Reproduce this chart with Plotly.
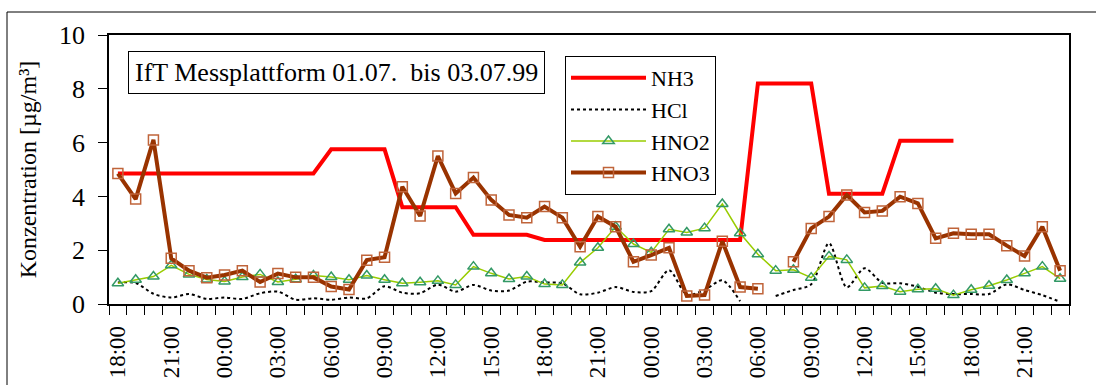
import plotly.graph_objects as go
import pandas as pd

# hourly time stamps 01.07.99 18:00 -> 03.07.99 23:00
times = pd.date_range("1999-07-01 18:00", "1999-07-03 23:00", freq="h")

nh3 = [4.85, 4.85, 4.85, 4.85, 4.85, 4.85, 4.85, 4.85, 4.85, 4.85, 4.85, 4.85,
       5.75, 5.75, 5.75, 5.75,
       3.6, 3.6, 3.6, 3.6,
       2.57, 2.57, 2.57, 2.57,
       2.38, 2.38, 2.38, 2.38, 2.38, 2.38, 2.38, 2.38, 2.38, 2.38, 2.38, 2.38,
       8.2, 8.2, 8.2, 8.2,
       4.1, 4.1, 4.1, 4.1,
       6.07, 6.07, 6.07, 6.07,
       None, None, None, None, None, None]

hcl = [0.8, 0.78, 0.38, 0.24, 0.37, 0.19, 0.24, 0.19, 0.4, 0.46, 0.16, 0.21,
       0.16, 0.24, 0.21, 0.66, 0.42, 0.4, 0.72, 0.46, 0.71, 0.5, 0.5, 0.83,
       0.8, 0.77, 0.36, 0.42, 0.63, 0.45, 0.48, 1.26, 0.35, 0.52, 0.88, 0.1,
       None, 0.3, 0.52, 0.73, 2.26, 0.62, 1.33, 0.79, 0.77, 0.64, 0.42, 0.37,
       0.37, 0.37, 0.73, 0.52, 0.33, 0.08]

hno2 = [0.77, 0.9, 1.02, 1.44, 1.1, 0.91, 0.84, 1.0, 1.1, 0.82, 0.92, 1.06,
        1.0, 0.9, 1.06, 0.9, 0.77, 0.81, 0.86, 0.71, 1.39, 1.14, 0.93, 1.02,
        0.74, 0.71, 1.54, 2.09, 2.87, 2.23, 1.92, 2.78, 2.66, 2.82, 3.72, 2.63,
        1.85, 1.24, 1.27, 0.98, 1.77, 1.64, 0.6, 0.67, 0.46, 0.55, 0.57, 0.33,
        0.53, 0.68, 0.89, 1.14, 1.39, 0.94]

hno3 = [4.85, 3.9, 6.1, 1.7, 1.24, 0.98, 1.08, 1.24, 0.82, 1.13, 0.99, 0.99,
        0.65, 0.54, 1.63, 1.74, 4.36, 3.27, 5.5, 4.11, 4.7, 3.87, 3.31, 3.21,
        3.62, 3.21, 2.13, 3.25, 2.87, 1.57, 1.82, 2.09, 0.3, 0.33, 2.33, 0.63,
        0.57, None, 1.57, 2.81, 3.25, 4.05, 3.4, 3.46, 3.99, 3.74, 2.44, 2.63,
        2.59, 2.59, 2.17, 1.78, 2.87, 1.24]

FONT = "Liberation Serif"

fig = go.Figure()
fig.add_trace(go.Scatter(x=times, y=nh3, name="NH3", mode="lines",
                         line=dict(color="#FF0000", width=4), legendgroup="a"))
fig.add_trace(go.Scatter(x=times, y=hcl, name="HCl", mode="lines",
                         line=dict(color="#000000", width=2, dash="dot",
                                   shape="spline", smoothing=0.8),
                         legendgroup="b"))
fig.add_trace(go.Scatter(x=times, y=hno2, name="HNO2", mode="lines+markers",
                         line=dict(color="#99CC00", width=1.5),
                         marker=dict(symbol="triangle-up-open", size=10,
                                     color="#339966", line=dict(width=1.5)),
                         legendgroup="c"))
fig.add_trace(go.Scatter(x=times, y=hno3, name="HNO3", mode="lines+markers",
                         line=dict(color="#993300", width=4),
                         marker=dict(symbol="square-open", size=10,
                                     color="#C0643A", line=dict(width=1.5)),
                         legendgroup="d"))

fig.update_layout(
    width=1096, height=385,
    margin=dict(l=109, r=27, t=35, b=81, autoexpand=False),
    paper_bgcolor="white", plot_bgcolor="white",
    font=dict(family=FONT, color="black"),
    showlegend=True,
    legend=dict(x=0.475, y=0.922, xanchor="left", yanchor="top",
                bordercolor="black", borderwidth=1, bgcolor="white",
                font=dict(family=FONT, size=22, color="black"),
                itemwidth=75, tracegroupgap=0),
    xaxis=dict(
        type="date", automargin=False,
        range=["1999-07-01 17:30", "1999-07-03 23:30"],
        tickmode="linear", tick0="1999-07-01 18:00", dtick=3 * 3600000,
        tickformat="%H:%M", tickangle=-90,
        tickfont=dict(family=FONT, size=23, color="black"),
        ticks="", ticklabelstandoff=11,
        showline=True, linecolor="black", linewidth=1.5, mirror=True,
        showgrid=False, zeroline=False,
        minor=dict(ticks="outside", ticklen=9, tickcolor="black", tickwidth=1,
                   tick0="1999-07-01 17:30", dtick=3600000, showgrid=False),
    ),
    yaxis=dict(
        automargin=False,
        range=[0, 10], tickmode="linear", tick0=0, dtick=2,
        ticks="outside", ticklen=9, tickcolor="black", tickwidth=1,
        tickfont=dict(family=FONT, size=26, color="black"),
        ticklabelstandoff=8,
        showline=True, linecolor="black", linewidth=1.5, mirror=True,
        showgrid=False, zeroline=False,
        title=dict(text="Konzentration [µg/m³]",
                   font=dict(family=FONT, size=24, color="black"), standoff=16),
    ),
    annotations=[dict(
        text="IfT Messplattform 01.07.\u00a0 bis 03.07.99",
        xref="paper", yref="paper", x=0.237, y=0.859,
        xanchor="center", yanchor="middle", showarrow=False,
        font=dict(family=FONT, size=26, color="black"),
        bordercolor="black", borderwidth=1, borderpad=6, bgcolor="white")],
    shapes=[dict(type="rect", xref="paper", yref="paper",
                 x0=-0.10625, x1=1.06, y0=-0.4, y1=1.0855,
                 line=dict(color="black", width=1), fillcolor="rgba(0,0,0,0)",
                 layer="below")],
)

fig.write_html("out.html")
